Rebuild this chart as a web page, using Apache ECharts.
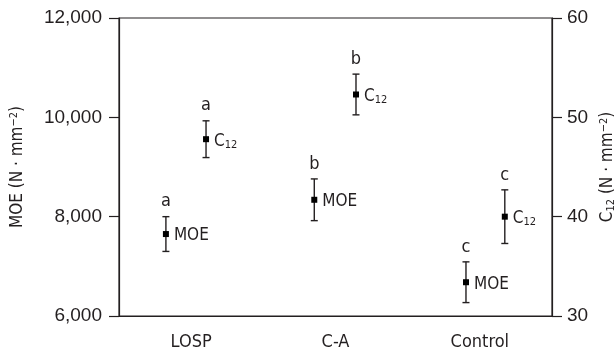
<!DOCTYPE html>
<html>
<head>
<meta charset="utf-8">
<script src="https://cdn.jsdelivr.net/npm/echarts@6/dist/echarts.min.js"></script>
<style>
  html, body { margin: 0; padding: 0; background: #fff; }
  #chart { width: 614px; height: 351px; }
</style>
</head>
<body>
<div id="chart"></div>
<script>
  const categories = ['LOSP', 'C-A', 'Control']
  const moeMean = [7650, 8340, 6680]
  const moeErr = [350, 420, 410]
  const moeGroup = ['a', 'b', 'c']
  const c12Mean = [47.8, 52.3, 40.0]
  const c12Err = [1.85, 2.05, 2.7]
  const c12Group = ['a', 'b', 'c']
  const moeTicks = [6000, 8000, 10000, 12000]
  const c12Ticks = [30, 40, 50, 60]

  const ink = '#231f20'
  const labelFont = '"Liberation Sans Narrow", "DejaVu Sans Condensed", "Liberation Sans", sans-serif'
  const tickFont = '"Liberation Sans", Arial, sans-serif'

  // horizontal dodge of the two markers inside each category (category units)
  const moeShift = [-0.175, -0.147, -0.096]
  const c12Shift = [0.103, 0.142, 0.173]

  function errorSeries (name, yAxisIndex, means, errs, shifts, letters, tag) {
    return {
      type: 'custom',
      name,
      xAxisIndex: 1,
      yAxisIndex,
      silent: true,
      animation: false,
      data: means.map((m, i) => [i + shifts[i], m, errs[i]]),
      renderItem (params, api) {
        const x = api.value(0)
        const m = api.value(1)
        const e = api.value(2)
        const c = api.coord([x, m])
        const hi = api.coord([x, m + e])
        const lo = api.coord([x, m - e])
        const cap = 3.5
        const stroke = {stroke: ink, lineWidth: 1.4}
        return {
          type: 'group',
          children: [
            {type: 'line', shape: {x1: c[0], y1: hi[1], x2: c[0], y2: lo[1]}, style: stroke},
            {type: 'line', shape: {x1: c[0] - cap, y1: hi[1], x2: c[0] + cap, y2: hi[1]}, style: stroke},
            {type: 'line', shape: {x1: c[0] - cap, y1: lo[1], x2: c[0] + cap, y2: lo[1]}, style: stroke},
            {type: 'rect', shape: {x: c[0] - 3, y: c[1] - 3, width: 6, height: 6}, style: {fill: '#000'}},
            {
              type: 'text',
              x: c[0],
              y: hi[1] - 6,
              style: {
                text: letters[params.dataIndex],
                align: 'center',
                verticalAlign: 'bottom',
                font: '18px ' + labelFont,
                fill: ink
              }
            },
            {
              type: 'text',
              x: c[0] + 8,
              y: c[1] + 2,
              style: {
                text: tag,
                align: 'left',
                verticalAlign: 'middle',
                font: '17px ' + labelFont,
                fill: ink,
                rich: {
                  b: {fontSize: 17, fontFamily: labelFont, fill: ink},
                  sub: {fontSize: 11, fontFamily: labelFont, fill: ink, verticalAlign: 'bottom', padding: [7, 0, 0, 0]}
                }
              }
            }
          ]
        }
      }
    }
  }

  const chart = echarts.init(document.getElementById('chart'), null, {renderer: 'canvas'})

  const option = {
    animation: false,
    grid: {
      left: 119,
      right: 62,
      top: 18,
      bottom: 35,
      containLabel: false,
      outerBoundsMode: 'none',
      show: true,
      borderColor: ink,
      borderWidth: 1.2,
      backgroundColor: 'transparent'
    },
    xAxis: [
      {
        type: 'category',
        data: categories,
        boundaryGap: true,
        axisLine: {show: true, lineStyle: {color: ink, width: 1.2}},
        axisTick: {show: false},
        axisLabel: {color: ink, fontSize: 18, fontFamily: labelFont, margin: 17},
        splitLine: {show: false}
      },
      {
        type: 'value',
        min: -0.5,
        max: 2.5,
        show: false
      }
    ],
    yAxis: [
      {
        type: 'value',
        position: 'left',
        min: moeTicks[0],
        max: moeTicks[moeTicks.length - 1],
        interval: moeTicks[1] - moeTicks[0],
        name: 'MOE (N · mm{sup|−2})',
        nameLocation: 'middle',
        nameRotate: 90,
        nameGap: 92,
        nameTextStyle: {
          color: ink,
          fontSize: 17,
          fontFamily: labelFont,
          rich: {
            sup: {fontSize: 11, fontFamily: labelFont, color: ink, verticalAlign: 'top', padding: [0, 0, 7, 0]}
          }
        },
        axisLine: {show: true, onZero: false, lineStyle: {color: ink, width: 1.2}},
        axisTick: {show: true, inside: false, length: 10, lineStyle: {color: ink, width: 1.2}},
        axisLabel: {
          color: ink,
          fontSize: 19,
          fontFamily: tickFont,
          margin: 17,
          formatter: v => v.toLocaleString('en-US')
        },
        splitLine: {show: false}
      },
      {
        type: 'value',
        position: 'right',
        min: c12Ticks[0],
        max: c12Ticks[c12Ticks.length - 1],
        interval: c12Ticks[1] - c12Ticks[0],
        name: 'C{sub|12} (N · mm{sup|−2})',
        nameLocation: 'middle',
        nameRotate: 90,
        nameGap: 45,
        nameTextStyle: {
          color: ink,
          fontSize: 17,
          fontFamily: labelFont,
          rich: {
            sub: {fontSize: 11, fontFamily: labelFont, color: ink, verticalAlign: 'bottom', padding: [7, 0, 0, 0]},
            sup: {fontSize: 11, fontFamily: labelFont, color: ink, verticalAlign: 'top', padding: [0, 0, 7, 0]}
          }
        },
        axisLine: {show: true, onZero: false, lineStyle: {color: ink, width: 1.2}},
        axisTick: {show: true, inside: false, length: 10, lineStyle: {color: ink, width: 1.2}},
        axisLabel: {color: ink, fontSize: 19, fontFamily: tickFont, margin: 15},
        splitLine: {show: false}
      }
    ],
    series: [
      errorSeries('MOE', 0, moeMean, moeErr, moeShift, moeGroup, 'MOE'),
      errorSeries('C12', 1, c12Mean, c12Err, c12Shift, c12Group, '{b|C}{sub|12}')
    ]
  }

  chart.setOption(option)
</script>
</body>
</html>
